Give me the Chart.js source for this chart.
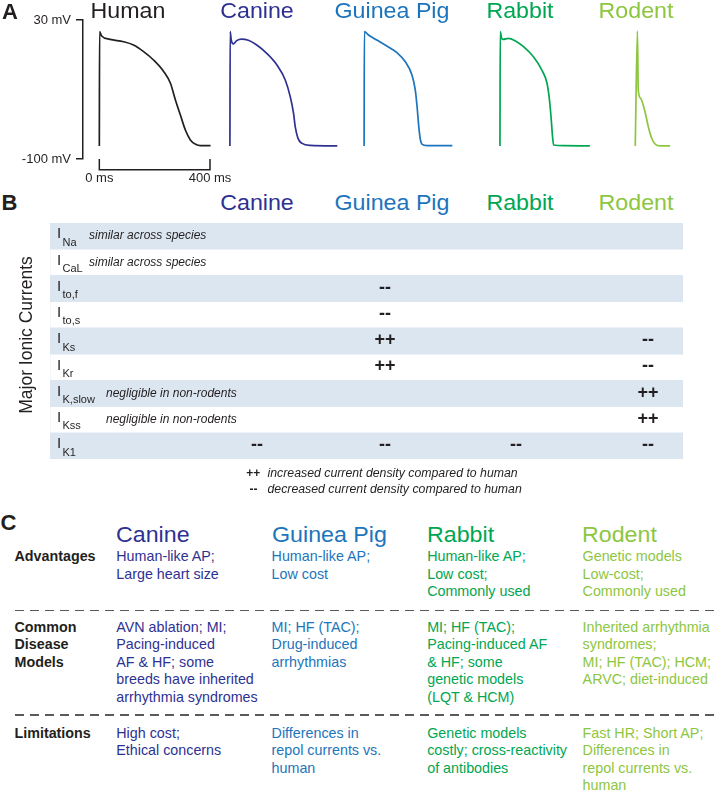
<!DOCTYPE html>
<html>
<head>
<meta charset="utf-8">
<script src="https://cdn.jsdelivr.net/npm/chart.js@4.4.1/dist/chart.umd.min.js"></script>
<style>
html, body { margin: 0; padding: 0; background: #ffffff; }
#fig { position: relative; width: 714px; height: 791px; overflow: hidden; background: #ffffff;
  font-family: "Liberation Sans", Arial, Helvetica, sans-serif; }
#apCanvas { position: absolute; left: 0; top: 0; }
#ionCanvas { position: absolute; left: 0; top: 215px; }
.t { position: absolute; white-space: nowrap; line-height: 1; }
.dash { position: absolute; height: 1.5px;
  background: repeating-linear-gradient(90deg, #5a5a5a 0 9px, transparent 9px 15px); }
</style>
</head>
<body>
<div id="fig">
  <canvas id="apCanvas" width="714" height="190"></canvas>
  <canvas id="ionCanvas" width="714" height="250"></canvas>
</div>
<script>
// ===================== DATA =====================
const speciesNames = ['Human', 'Canine', 'Guinea Pig', 'Rabbit', 'Rodent'];
const voltageTicks = [30, -100];        // mV (axis ticks)
const scaleBarTicks = [0, 400];         // ms (scale bar)
const scaleBarMv = [-100, -110];        // scale bar drawn just below the voltage axis
const traceStartMs = [0, 472, 957, 1448, 1937];  // where each AP starts on the shared time axis

// Action potentials: time from upstroke (ms), membrane potential (mV)
const humanT  = [0, 1, 8.5, 38.8, 87.3, 123.6, 160, 196, 233, 257, 275, 293, 311, 329, 348, 366, 402];
const humanV  = [-87.8, 19.1, 15.0, 11.9, 9.7, 6.6, 0.4, -7.4, -18.3, -29.2, -44.8, -58.9, -72.9, -82.2, -86.3, -87.5, -87.5];
const canineT = [0, 1, 4.8, 12.1, 24.2, 42.4, 66.7, 97, 133, 170, 200, 218, 230, 236, 246, 261, 291, 388];
const canineV = [-87.8, 19.1, 11.3, 7.6, 10.7, 12.2, 11.0, 6.6, -1.2, -12.1, -26.1, -41.7, -57.3, -69.8, -80.7, -85.4, -87.3, -87.8];
const guineaT = [0, 1, 15.8, 46, 82, 119, 149, 173, 185, 191.5, 197.6, 203.6, 209.7, 228, 319];
const guineaV = [-87.8, 19.1, 16.0, 11.3, 5.7, -0.6, -9.0, -21.4, -35.5, -51.1, -69.8, -82.2, -86.3, -87.5, -87.5];
const rabbitT = [0, 1, 6.1, 12.1, 30.3, 54.5, 85, 121, 151.5, 170, 179, 185.5, 190, 194, 230, 325];
const rabbitV = [-87.8, 19.1, 12.9, 11.9, 12.9, 10.7, 5.1, -4.3, -16.8, -29.2, -44.8, -63.5, -79.1, -86.9, -87.5, -87.8];
const rodentT = [0, 7.9, 10.8, 19.5, 35.2, 47.2, 59.5, 71.5, 89.7, 126];
const rodentV = [-87.8, 19.7, -35.5, -43.2, -55.8, -69.8, -80.6, -86.0, -87.8, -87.8];

// Panel B: major ionic currents
const currentSubs  = ['Na', 'CaL', 'to,f', 'to,s', 'Ks', 'Kr', 'K,slow', 'Kss', 'K1'];
const currentNotes = ['similar across species', 'similar across species', '', '', '', '', 'negligible in non-rodents', 'negligible in non-rodents', ''];
const canineVals = ['', '', '', '', '', '', '', '', '--'];
const guineaVals = ['', '', '--', '--', '++', '++', '', '', '--'];
const rabbitVals = ['', '', '', '', '', '', '', '', '--'];
const rodentVals = ['', '', '', '', '--', '--', '++', '++', '--'];
const legendLines = [['++', 'increased current density compared to human'], ['--', 'decreased current density compared to human']];

// Panel C: models
const rowHeads = [['Advantages'], ['Common', 'Disease', 'Models'], ['Limitations']];
const canineC = [['Human-like AP;', 'Large heart size'],
                 ['AVN ablation; MI;', 'Pacing-induced', 'AF & HF; some', 'breeds have inherited', 'arrhythmia syndromes'],
                 ['High cost;', 'Ethical concerns']];
const guineaC = [['Human-like AP;', 'Low cost'],
                 ['MI; HF (TAC);', 'Drug-induced', 'arrhythmias'],
                 ['Differences in', 'repol currents vs.', 'human']];
const rabbitC = [['Human-like AP;', 'Low cost;', 'Commonly used'],
                 ['MI; HF (TAC);', 'Pacing-induced AF', '& HF; some', 'genetic models', '(LQT & HCM)'],
                 ['Genetic models', 'costly; cross-reactivity', 'of antibodies']];
const rodentC = [['Genetic models', 'Low-cost;', 'Commonly used'],
                 ['Inherited arrhythmia', 'syndromes;', 'MI; HF (TAC); HCM;', 'ARVC; diet-induced'],
                 ['Fast HR; Short AP;', 'Differences in', 'repol currents vs.', 'human']];

// ===================== STYLE / LAYOUT =====================
const ink = '#231f20';
const speciesColors = ['#231f20', '#2e3192', '#1c75bc', '#00a651', '#8dc63f'];
const FONT = '"Liberation Sans", Arial, Helvetica, sans-serif';
Chart.defaults.font.family = FONT;
const ASC = 0.8465;   // baseline offset (em) for line-height:1

const fig = document.getElementById('fig');
function txt(str, x, base, size, o = {}) {
  const el = document.createElement('div');
  el.className = 't';
  el.textContent = str;
  el.style.fontSize = size + 'px';
  el.style.left = x + 'px';
  el.style.top = (base - ASC * size) + 'px';
  el.style.color = o.color || ink;
  if (o.bold) el.style.fontWeight = 'bold';
  if (o.italic) el.style.fontStyle = 'italic';
  const tr = [];
  if (o.center) tr.push('translateX(-50%)');
  if (o.sx) tr.push('scaleX(' + o.sx + ')');
  if (tr.length) el.style.transform = tr.join(' ');
  if (!o.center && o.sx) el.style.transformOrigin = 'left center';
  fig.appendChild(el);
  return el;
}

// ===================== PANEL A (Chart.js) =====================
const traces = [[humanT, humanV], [canineT, canineV], [guineaT, guineaV], [rabbitT, rabbitV], [rodentT, rodentV]];
const apDatasets = traces.map(([ts, vs], i) => ({
  label: speciesNames[i],
  data: ts.map((t, j) => ({ x: t + traceStartMs[i], y: vs[j] })),
  borderColor: speciesColors[i],
  borderWidth: 1.7,
  pointRadius: 0,
  fill: false,
  cubicInterpolationMode: 'monotone'
}));
apDatasets.push({
  label: 'scale bar',
  data: [
    { x: scaleBarTicks[0], y: scaleBarMv[0] }, { x: scaleBarTicks[0], y: scaleBarMv[1] },
    { x: scaleBarTicks[1], y: scaleBarMv[1] }, { x: scaleBarTicks[1], y: scaleBarMv[0] }
  ],
  borderColor: ink, borderWidth: 1.5, pointRadius: 0, tension: 0, fill: false, clip: false
});

new Chart(document.getElementById('apCanvas'), {
  type: 'line',
  data: { datasets: apDatasets },
  options: {
    responsive: false, animation: false, events: [],
    layout: { padding: { top: 20, left: 0, right: 14, bottom: 0 } },
    plugins: { legend: { display: false }, tooltip: { enabled: false } },
    scales: {
      x: {
        type: 'linear', min: -59, max: 2171,
        grid: { display: false }, border: { display: false },
        ticks: { color: ink, font: { size: 13 }, padding: 4, maxRotation: 0, autoSkip: false,
                 callback: v => v + ' ms' },
        afterBuildTicks: s => { s.ticks = scaleBarTicks.map(v => ({ value: v })); },
        afterFit: s => { s.height = 31; }
      },
      y: {
        type: 'linear', min: -100, max: 30,
        grid: { display: true, drawOnChartArea: false, drawTicks: true, tickLength: 7, color: ink, lineWidth: 1.5 },
        border: { display: true, color: ink, width: 1.5 },
        ticks: { color: ink, font: { size: 13 }, padding: 5, callback: v => v + ' mV' },
        afterBuildTicks: s => { s.ticks = voltageTicks.map(v => ({ value: v })); },
        afterFit: s => { s.width = 83; }
      }
    }
  }
});

txt('A', 2, 20, 22, { bold: true });
const titleCenters = [128.3, 256.7, 391.5, 519.7, 636.2];
speciesNames.forEach((n, i) => txt(n, titleCenters[i], 19.5, 21.5, { color: speciesColors[i], center: true, sx: 1.08 }));

// ===================== PANEL B =====================
const ionTop = 215;
const rowBand = currentSubs.map((_, i) => (i % 2 === 0 ? 1 : 0));
const ionChart = new Chart(document.getElementById('ionCanvas'), {
  type: 'bar',
  data: { labels: currentSubs, datasets: [{ data: rowBand, backgroundColor: '#dce6f1', borderWidth: 0,
          barPercentage: 1, categoryPercentage: 1 }] },
  options: {
    indexAxis: 'y', responsive: false, animation: false, events: [],
    layout: { padding: { top: 8, bottom: 6, left: 50, right: 31 } },
    plugins: { legend: { display: false }, tooltip: { enabled: false } },
    scales: { x: { display: false, min: 0, max: 1 }, y: { display: false } }
  }
});

txt('B', 1.5, 211, 22, { bold: true });
speciesNames.slice(1).forEach((n, i) => txt(n, titleCenters[i + 1], 211, 21.5, { color: speciesColors[i + 1], center: true, sx: 1.08 }));

const mic = txt('Major Ionic Currents', 27, 0, 17.5, {});
mic.style.top = '335px';
mic.style.transform = 'translate(-50%, -50%) rotate(-90deg)';

const valueCols = [canineVals, guineaVals, rabbitVals, rodentVals];
const valueCenters = [257, 385, 516, 648];
currentSubs.forEach((sub, i) => {
  const rc = ionTop + ionChart.scales.y.getPixelForValue(i);
  txt('I', 57, rc + 2, 15);
  txt(sub, 62.5, rc + 10, 11);
  if (currentNotes[i]) txt(currentNotes[i], sub.length > 4 || sub === 'Kss' ? 106 : 89, rc + 3.5, 12, { italic: true });
  valueCols.forEach((col, k) => { if (col[i]) txt(col[i], valueCenters[k], rc + 4.5, 18, { bold: true, center: true }); });
});

legendLines.forEach(([sym, text], i) => {
  txt(sym, i === 0 ? 246.3 : 249.5, 477 + i * 16, 12, { bold: true });
  txt(text, 267.5, 477 + i * 16, 12.3, { italic: true });
});

// ===================== PANEL C =====================
txt('C', 0.5, 531, 22, { bold: true });
const cLeft = [116.3, 271.6, 427.0, 582.2];
const bodyLeft = [116.3, 271.6, 427.2, 582.6];
speciesNames.slice(1).forEach((n, i) => txt(n, cLeft[i], 543.3, 21.5, { color: speciesColors[i + 1], sx: 1.08 }));

const blockBase = [561.5, 631.7, 737.7];
const lineGap = 17.5;
rowHeads.forEach((lines, r) => lines.forEach((l, j) => txt(l, 14.5, blockBase[r] + j * lineGap, 14.3, { bold: true })));
[canineC, guineaC, rabbitC, rodentC].forEach((blocks, k) => {
  blocks.forEach((lines, r) => lines.forEach((l, j) =>
    txt(l, bodyLeft[k], blockBase[r] + j * lineGap, 14.3, { color: speciesColors[k + 1] })));
});

[610.7, 715].forEach(y => {
  const d = document.createElement('div');
  d.className = 'dash';
  d.style.left = '15px'; d.style.width = '699px'; d.style.top = (y - 0.75) + 'px';
  fig.appendChild(d);
});
</script>
</body>
</html>
